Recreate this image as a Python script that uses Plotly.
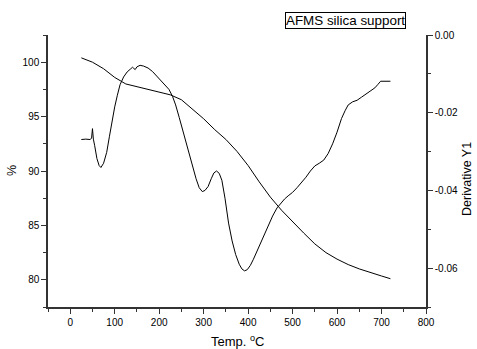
import plotly.graph_objects as go

# TG curve (left axis, %)
tg_temp = [25, 50, 75, 100, 125, 150, 175, 200, 225, 250, 275, 300, 325, 350,
           375, 400, 425, 450, 475, 500, 525, 550, 575, 600, 625, 650, 675, 700, 720]
tg_pct = [100.4, 100.0, 99.4, 98.6, 98.0, 97.75, 97.5, 97.25, 97.0, 96.55, 95.7,
          94.8, 93.8, 92.9, 91.8, 90.5, 89.0, 87.6, 86.4, 85.3, 84.3, 83.3, 82.5,
          81.9, 81.4, 81.0, 80.65, 80.35, 80.1]

# Derivative curve (right axis)
dtg_temp = [25, 35, 45, 48, 50, 52, 55, 60, 65, 69, 75, 82, 88, 94, 100, 106, 112,
            120, 128, 135, 140, 143, 146, 150, 157, 165, 175, 185, 195, 205, 215,
            222, 230, 237, 245, 255, 265, 275, 283, 290, 297, 303, 310, 317, 323,
            329, 335, 341, 348, 356, 364, 372, 380, 386, 392, 398, 405, 412, 420,
            430, 443, 455, 465, 475, 482, 490, 500, 510, 518, 530, 540, 550, 560,
            570, 580, 590, 600, 610, 618, 625, 635, 645, 655, 665, 675, 685, 692,
            698, 720]
dtg_val = [-0.0269, -0.0268, -0.0269, -0.0265, -0.0241, -0.0268, -0.0285, -0.0318,
           -0.0336, -0.0341, -0.0330, -0.0302, -0.0262, -0.0220, -0.0185, -0.0155,
           -0.0128, -0.0108, -0.0095, -0.0088, -0.0083, -0.0086, -0.0089, -0.0082,
           -0.0078, -0.0080, -0.0085, -0.0094, -0.0106, -0.0118, -0.0130, -0.0140,
           -0.0158, -0.0180, -0.0212, -0.0255, -0.0300, -0.0338, -0.0370, -0.0393,
           -0.0403, -0.0400, -0.0390, -0.0370, -0.0355, -0.0350, -0.0356, -0.0374,
           -0.0420, -0.0484, -0.0530, -0.0565, -0.0590, -0.0602, -0.0607, -0.0604,
           -0.0593, -0.0577, -0.0556, -0.0528, -0.0494, -0.0466, -0.0445, -0.0430,
           -0.0422, -0.0414, -0.0405, -0.0393, -0.0383, -0.0366, -0.0350, -0.0337,
           -0.0330, -0.0322, -0.0305, -0.0280, -0.0250, -0.0215, -0.0195, -0.0180,
           -0.0172, -0.0168, -0.0160, -0.0152, -0.0145, -0.0136, -0.0127, -0.0119,
           -0.0119]

x_ticks = [0, 100, 200, 300, 400, 500, 600, 700, 800]
y_ticks = [80, 85, 90, 95, 100]
y2_ticks = [0.0, -0.02, -0.04, -0.06]
y2_labels = ["0.00", "-0.02", "-0.04", "-0.06"]

FONT = "Liberation Sans, Arial, sans-serif"
AX = "#333333"

fig = go.Figure()
fig.add_trace(go.Scatter(x=tg_temp, y=tg_pct, mode="lines",
                         line=dict(color="black", width=1), yaxis="y",
                         showlegend=False))
fig.add_trace(go.Scatter(x=dtg_temp, y=dtg_val, mode="lines",
                         line=dict(color="black", width=1), yaxis="y2",
                         showlegend=False))

axis_common = dict(showline=True, linecolor=AX, linewidth=1.5, ticks="outside",
                   ticklen=5, tickwidth=1, tickcolor=AX, showgrid=False,
                   zeroline=False, automargin=False,
                   tickfont=dict(family=FONT, size=10, color="black"))

fig.update_layout(
    width=477, height=349,
    margin=dict(l=48, r=51, t=35, b=42),
    paper_bgcolor="white", plot_bgcolor="white",
    font=dict(family=FONT, color="black"),
    xaxis=dict(range=[-50, 800], tickvals=x_ticks,
               minor=dict(ticks="outside", ticklen=3, dtick=50, tick0=0,
                          tickcolor=AX), **axis_common),
    yaxis=dict(range=[77.5, 102.5], tickvals=y_ticks,
               minor=dict(ticks="outside", ticklen=3, dtick=2.5, tick0=0,
                          tickcolor=AX), **axis_common),
    yaxis2=dict(range=[-0.07, 0.0], tickvals=y2_ticks, ticktext=y2_labels,
                overlaying="y", side="right",
                minor=dict(ticks="outside", ticklen=3, dtick=0.01, tick0=0,
                           tickcolor=AX), **axis_common),
    annotations=[
        dict(text="AFMS silica support", xref="paper", yref="paper",
             x=0.788, y=1.055, xanchor="center", yanchor="middle",
             showarrow=False,
             font=dict(family=FONT, size=13.4, color="black"),
             bordercolor="black", borderwidth=1, borderpad=0,
             bgcolor="white"),
        dict(text="Temp. <sup>o</sup>C", xref="paper", yref="paper",
             x=0.5, y=-0.124, xanchor="center", yanchor="middle",
             showarrow=False,
             font=dict(family=FONT, size=13, color="black")),
        dict(text="%", xref="paper", yref="paper", x=-0.095, y=0.5,
             textangle=-90, showarrow=False, xanchor="center",
             yanchor="middle",
             font=dict(family=FONT, size=12.5, color="black")),
        dict(text="Derivative Y1", xref="paper", yref="paper", x=1.108, y=0.47,
             textangle=-90, showarrow=False, xanchor="center",
             yanchor="middle",
             font=dict(family=FONT, size=12.5, color="black")),
    ],
)

fig.write_html("out.html",
               config={"displayModeBar": False},
               post_script="document.body.style.margin='0';"
                           "document.body.style.overflow='hidden';")
